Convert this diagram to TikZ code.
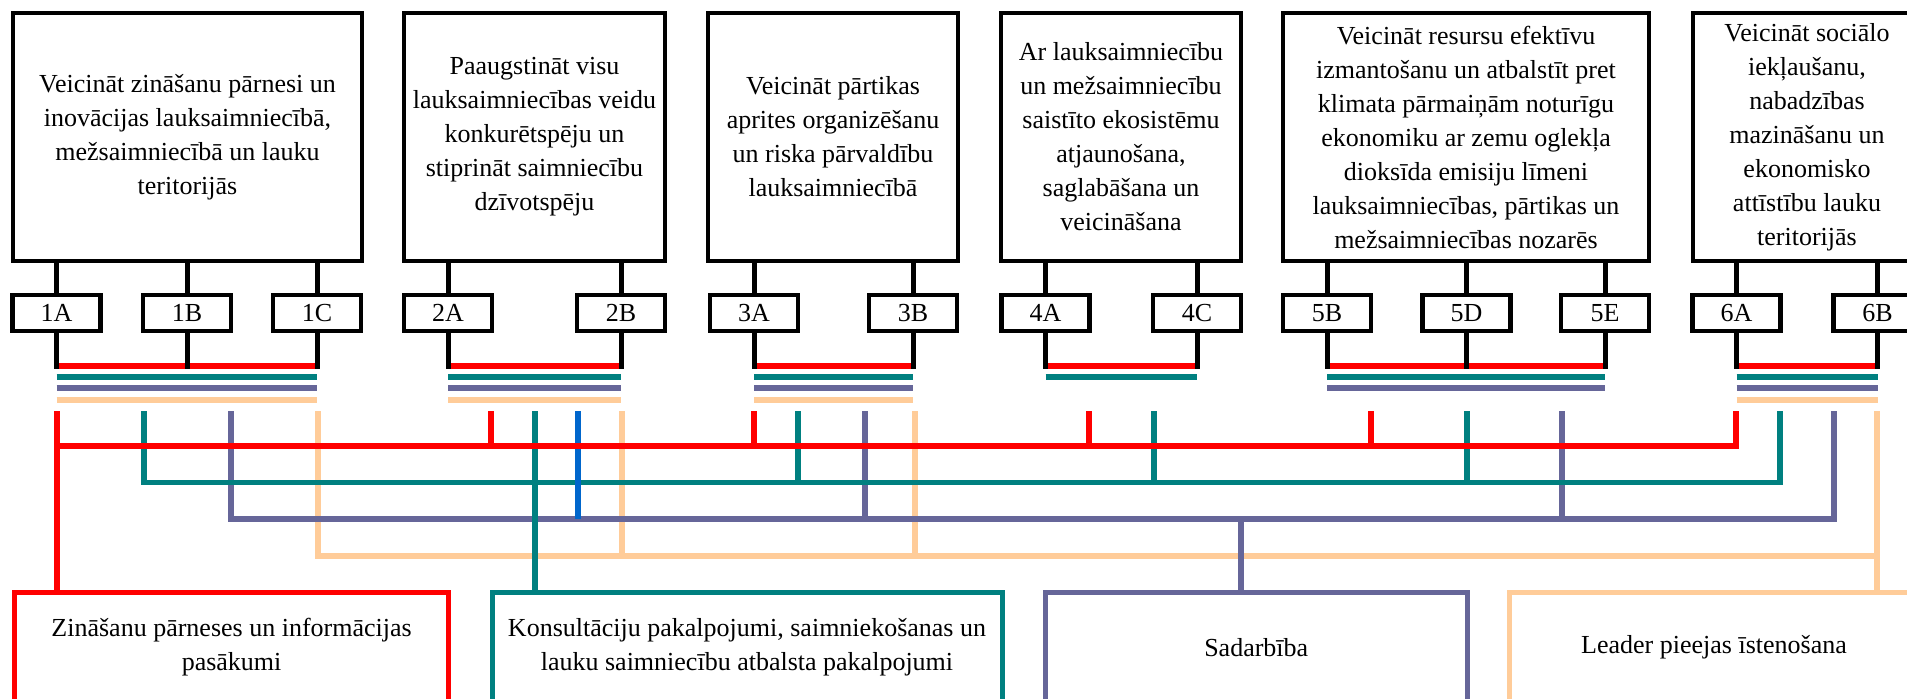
\documentclass[tikz,border=0pt]{standalone}
\usepackage{fontspec}
\setmainfont{Liberation Serif}
\definecolor{cred}{HTML}{FF0000}
\definecolor{cteal}{HTML}{008080}
\definecolor{cpurp}{HTML}{666699}
\definecolor{cpeach}{HTML}{FFCC99}
\definecolor{cblue}{HTML}{0066CC}
\newcommand{\myfs}{\fontsize{13pt}{17pt}\selectfont}
\tikzset{
  goal/.style={draw, line width=2.4pt, align=center, inner sep=0pt, font=\myfs, minimum height=124pt},
  code/.style={draw, line width=2.4pt, inner sep=0pt, font=\myfs, minimum height=18pt, minimum width=44pt},
  link/.style={line width=2.5pt},
  bar/.style={line width=2.75pt},
  net/.style={line width=2.75pt},
  meas/.style={draw, line width=2.5pt, align=center, inner sep=0pt, font=\myfs, minimum height=54.75pt},
}
\begin{document}
\begin{tikzpicture}[x=0.5pt,y=-0.5pt]
\useasboundingbox[fill=white] (0,0) rectangle (1907,698);

% goal boxes
\node[goal, minimum width=174.5pt] (g1) at (187.5,137) {Veicināt zināšanu pārnesi un\\inovācijas lauksaimniecībā,\\mežsaimniecībā un lauku\\teritorijās};
\node[goal, minimum width=130.5pt] (g2) at (534.5,137) {Paaugstināt visu\\lauksaimniecības veidu\\konkurētspēju un\\stiprināt saimniecību\\dzīvotspēju};
\node[goal, minimum width=125pt] (g3) at (833,137) {Veicināt pārtikas\\aprites organizēšanu\\un riska pārvaldību\\lauksaimniecībā};
\node[goal, minimum width=120pt] (g4) at (1121,137) {Ar lauksaimniecību\\un mežsaimniecību\\saistīto ekosistēmu\\atjaunošana,\\saglabāšana un\\veicināšana};
\node[goal, minimum width=183pt] (g5) at (1466,137) {Veicināt resursu efektīvu\\izmantošanu un atbalstīt pret\\klimata pārmaiņām noturīgu\\ekonomiku ar zemu oglekļa\\dioksīda emisiju līmeni\\lauksaimniecības, pārtikas un\\mežsaimniecības nozarēs};
\node[goal, minimum width=114pt] (g6) at (1807,137) {Veicināt sociālo\\iekļaušanu,\\nabadzības\\mazināšanu un\\ekonomisko\\attīstību lauku\\teritorijās};

% code boxes
\foreach \n/\x in {1A/56.5,1B/187,1C/317,2A/448,2B/621,3A/754,3B/913,4A/1045.5,4C/1197,5B/1327,5D/1466.5,5E/1605,6A/1736.5,6B/1877.5}{
  \node[code] (c\n) at (\x,313) {\n};
}

% colour bars under each group
\draw[bar,cred] (c1A |- 0,366) -- (c1C |- 0,366);
\draw[bar,cteal] (c1A |- 0,377) -- (c1C |- 0,377);
\draw[bar,cpurp] (c1A |- 0,388) -- (c1C |- 0,388);
\draw[bar,cpeach] (c1A |- 0,400) -- (c1C |- 0,400);

\draw[bar,cred] (c2A |- 0,366) -- (c2B |- 0,366);
\draw[bar,cteal] (c2A |- 0,377) -- (c2B |- 0,377);
\draw[bar,cpurp] (c2A |- 0,388) -- (c2B |- 0,388);
\draw[bar,cpeach] (c2A |- 0,400) -- (c2B |- 0,400);

\draw[bar,cred] (c3A |- 0,366) -- (c3B |- 0,366);
\draw[bar,cteal] (c3A |- 0,377) -- (c3B |- 0,377);
\draw[bar,cpurp] (c3A |- 0,388) -- (c3B |- 0,388);
\draw[bar,cpeach] (c3A |- 0,400) -- (c3B |- 0,400);

\draw[bar,cred] (c4A |- 0,366) -- (c4C |- 0,366);
\draw[bar,cteal] (c4A |- 0,377) -- (c4C |- 0,377);

\draw[bar,cred] (c5B |- 0,366) -- (c5E |- 0,366);
\draw[bar,cteal] (c5B |- 0,377) -- (c5E |- 0,377);
\draw[bar,cpurp] (c5B |- 0,388) -- (c5E |- 0,388);

\draw[bar,cred] (c6A |- 0,366) -- (c6B |- 0,366);
\draw[bar,cteal] (c6A |- 0,377) -- (c6B |- 0,377);
\draw[bar,cpurp] (c6A |- 0,388) -- (c6B |- 0,388);
\draw[bar,cpeach] (c6A |- 0,400) -- (c6B |- 0,400);

% black links
\foreach \n/\g in {1A/g1,1B/g1,1C/g1,2A/g2,2B/g2,3A/g3,3B/g3,4A/g4,4C/g4,5B/g5,5D/g5,5E/g5,6A/g6,6B/g6}{
  \draw[link] (c\n.north |- \g.south) -- (c\n.north);
  \draw[link] (c\n.south) -- (c\n |- 0,368.5);
}

% measure boxes
\node[meas, draw=cred, minimum width=216.9pt] (mred) at (231.6,647.25) {Zināšanu pārneses un informācijas\\pasākumi};
\node[meas, draw=cteal, minimum width=255pt] (mteal) at (747,647.25) {Konsultāciju pakalpojumi, saimniekošanas un\\lauku saimniecību atbalsta pakalpojumi};
\node[meas, draw=cpurp, minimum width=210.75pt] (mpurp) at (1256.25,647.25) {Sadarbība};
\node[meas, draw=cpeach, minimum width=205pt] (mpeach) at (1714,647.25) {Leader pieejas īstenošana};

% drop coordinates
\foreach \n/\x in {r1/57,r2/491,r3/754,r4/1089,r5/1371,r6/1736,
                   t1/144,t2/535,t3/798,t4/1154,t5/1467,t6/1780,
                   p1/231,b2/578,p3/865,p5/1562,p6/1834,
                   k1/318,k2/622,k3/915,k6/1877}{
  \coordinate (\n) at (\x,411);
}
\coordinate (pm) at (1241,519);

% peach network
\draw[net,cpeach] (k1) -- (k1 |- 0,556) -- (k6 |- 0,556);
\draw[net,cpeach] (k6) -- (k6 |- mpeach.north);
\draw[net,cpeach] (k2) -- (k2 |- 0,556);
\draw[net,cpeach] (k3) -- (k3 |- 0,556);

% purple network
\draw[net,cpurp] (p1) -- (p1 |- 0,519) -- (p6 |- 0,519) -- (p6);
\draw[net,cpurp] (p3) -- (p3 |- 0,519);
\draw[net,cpurp] (p5) -- (p5 |- 0,519);
\draw[net,cpurp] (pm) -- (pm |- mpurp.north);

% teal network
\draw[net,cteal] (t1) -- (t1 |- 0,482.5) -- (t6 |- 0,482.5) -- (t6);
\draw[net,cteal] (t2) -- (t2 |- mteal.north);
\draw[net,cteal] (t3) -- (t3 |- 0,482.5);
\draw[net,cteal] (t4) -- (t4 |- 0,482.5);
\draw[net,cteal] (t5) -- (t5 |- 0,482.5);

% blue link
\draw[net,cblue] (b2) -- (b2 |- 0,519);

% red network
\draw[net,cred] (r6) -- (r6 |- 0,446) -- (r1 |- 0,446);
\draw[net,cred] (r1) -- (r1 |- mred.north);
\draw[net,cred] (r2) -- (r2 |- 0,446);
\draw[net,cred] (r3) -- (r3 |- 0,446);
\draw[net,cred] (r4) -- (r4 |- 0,446);
\draw[net,cred] (r5) -- (r5 |- 0,446);
\end{tikzpicture}
\end{document}
